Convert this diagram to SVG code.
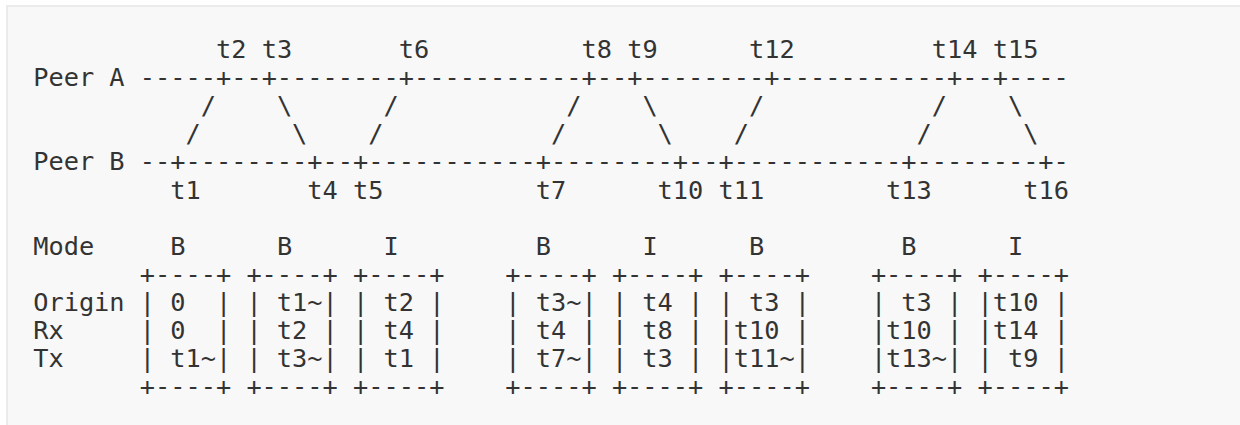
<svg xmlns="http://www.w3.org/2000/svg" width="1240" height="425" viewBox="0 0 1240 425">
<style>
text{font-family:"DejaVu Sans Mono","Liberation Mono",monospace;font-size:25.3px;fill:#333;white-space:pre}
</style>
<rect x="0" y="0" width="1240" height="425" fill="#ffffff"/>
<rect x="7" y="6" width="1245" height="430" fill="#f8f8f8" stroke="#ebebeb" stroke-width="2"/>
<g id="peer-a">
<text y="58"><tspan x="216.0">t2</tspan><tspan x="261.7">t3</tspan><tspan x="398.7">t6</tspan><tspan x="581.5">t8</tspan><tspan x="627.2">t9</tspan><tspan x="749.0">t12</tspan><tspan x="931.8">t14</tspan><tspan x="992.7">t15</tspan></text>
<text x="33.2" y="86.1">Peer A -----+--+--------+-----------+--+--------+-----------+--+----</text>
</g>
<g id="connectors">
<text y="114.2"><tspan x="200.7">/</tspan><tspan x="276.9">\</tspan><tspan x="383.5">/</tspan><tspan x="566.3">/</tspan><tspan x="642.4">\</tspan><tspan x="749.0">/</tspan><tspan x="931.8">/</tspan><tspan x="1007.9">\</tspan></text>
<text y="142.3"><tspan x="185.5">/</tspan><tspan x="292.1">\</tspan><tspan x="368.3">/</tspan><tspan x="551.0">/</tspan><tspan x="657.6">\</tspan><tspan x="733.8">/</tspan><tspan x="916.5">/</tspan><tspan x="1023.2">\</tspan></text>
</g>
<g id="peer-b">
<text x="33.2" y="170.4">Peer B --+--------+--+-----------+--------+--+-----------+--------+-</text>
<text y="198.5"><tspan x="170.3">t1</tspan><tspan x="307.3">t4</tspan><tspan x="353.0">t5</tspan><tspan x="535.8">t7</tspan><tspan x="657.6">t10</tspan><tspan x="718.6">t11</tspan><tspan x="886.1">t13</tspan><tspan x="1023.2">t16</tspan></text>
</g>
<g id="modes">
<text y="254.7"><tspan x="33.2">Mode</tspan><tspan x="170.3">B</tspan><tspan x="276.9">B</tspan><tspan x="383.5">I</tspan><tspan x="535.8">B</tspan><tspan x="642.4">I</tspan><tspan x="749.0">B</tspan><tspan x="901.3">B</tspan><tspan x="1007.9">I</tspan></text>
</g>
<g id="table">
<text y="282.8"><tspan x="139.8">+----+</tspan><tspan x="246.4">+----+</tspan><tspan x="353.0">+----+</tspan><tspan x="505.3">+----+</tspan><tspan x="611.9">+----+</tspan><tspan x="718.6">+----+</tspan><tspan x="870.9">+----+</tspan><tspan x="977.5">+----+</tspan></text>
<text y="310.9" xml:space="preserve"><tspan x="33.2">Origin</tspan><tspan x="139.8">| 0  |</tspan><tspan x="246.4">| t1~|</tspan><tspan x="353.0">| t2 |</tspan><tspan x="505.3">| t3~|</tspan><tspan x="611.9">| t4 |</tspan><tspan x="718.6">| t3 |</tspan><tspan x="870.9">| t3 |</tspan><tspan x="977.5">|t10 |</tspan></text>
<text y="339" xml:space="preserve"><tspan x="33.2">Rx</tspan><tspan x="139.8">| 0  |</tspan><tspan x="246.4">| t2 |</tspan><tspan x="353.0">| t4 |</tspan><tspan x="505.3">| t4 |</tspan><tspan x="611.9">| t8 |</tspan><tspan x="718.6">|t10 |</tspan><tspan x="870.9">|t10 |</tspan><tspan x="977.5">|t14 |</tspan></text>
<text y="367.1" xml:space="preserve"><tspan x="33.2">Tx</tspan><tspan x="139.8">| t1~|</tspan><tspan x="246.4">| t3~|</tspan><tspan x="353.0">| t1 |</tspan><tspan x="505.3">| t7~|</tspan><tspan x="611.9">| t3 |</tspan><tspan x="718.6">|t11~|</tspan><tspan x="870.9">|t13~|</tspan><tspan x="977.5">| t9 |</tspan></text>
<text y="395.2"><tspan x="139.8">+----+</tspan><tspan x="246.4">+----+</tspan><tspan x="353.0">+----+</tspan><tspan x="505.3">+----+</tspan><tspan x="611.9">+----+</tspan><tspan x="718.6">+----+</tspan><tspan x="870.9">+----+</tspan><tspan x="977.5">+----+</tspan></text>
</g>
</svg>
